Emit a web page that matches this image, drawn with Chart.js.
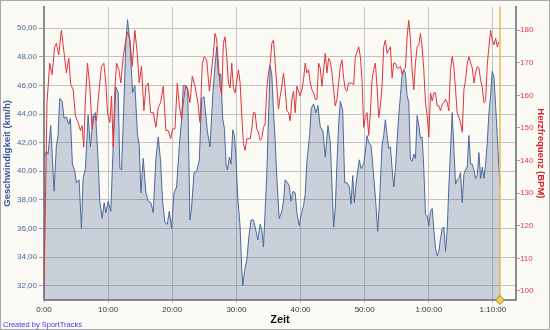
<!DOCTYPE html>
<html>
<head>
<meta charset="utf-8">
<script src="https://cdn.jsdelivr.net/npm/chart.js@4/dist/chart.umd.min.js"></script>
<style>
  html, body { margin: 0; padding: 0; background: #fbfaf5; }
  #wrap { width: 550px; height: 330px; position: relative; }
</style>
</head>
<body>
<div id="wrap"><canvas id="chartRun"></canvas></div>
<script>
// Geschwindigkeit (km/h), Zeit in Minuten
const speedMin = [0, 0.37, 0.63, 1.05, 1.57, 1.93, 2.19, 2.45, 2.82, 3.13, 3.49, 3.86, 4.12, 4.43, 4.8, 5.06, 5.47, 5.84, 6.1, 6.46,
  6.88, 7.24, 7.66, 8.03, 8.44, 8.7, 9.07, 9.38, 9.64, 10, 10.42, 10.79, 11.2, 11.57, 11.83, 12.09, 12.45, 12.76, 13.03, 13.39,
  13.81, 14.17, 14.59, 14.85, 15.11, 15.47, 15.89, 16.26, 16.67, 17.04, 17.45, 17.82, 18.18, 18.49, 18.86, 19.22, 19.54, 19.9, 20.27, 20.68,
  21.1, 21.46, 21.72, 22.09, 22.4, 22.76, 23.02, 23.39, 23.81, 24.22, 24.59, 24.95, 25.47, 25.89, 26.31, 26.67, 26.93, 27.19, 27.56, 27.87,
  28.13, 28.39, 28.6, 28.91, 29.17, 29.43, 29.69, 29.9, 30.21, 30.58, 30.84, 31, 31.26, 31.62, 31.99, 32.3, 32.66, 33.02, 33.34, 33.7,
  33.96, 34.22, 34.48, 34.74, 35, 35.27, 35.53, 35.79, 36.05, 36.31, 36.67, 37.09, 37.35, 37.61, 37.97, 38.23, 38.5, 38.81, 39.17, 39.43,
  39.8, 40.11, 40.47, 40.73, 41, 41.41, 41.67, 42.04, 42.4, 42.71, 43.08, 43.5, 43.86, 44.28, 44.65, 44.91, 45.17, 45.43, 45.68, 45.94,
  46.2, 46.57, 46.89, 47.25, 47.62, 47.88, 48.14, 48.39, 48.65, 48.91, 49.17, 49.43, 49.85, 50.21, 50.37, 50.63, 51, 51.31, 51.67, 52.04,
  52.35, 52.71, 52.97, 53.23, 53.5, 53.76, 54.02, 54.28, 54.54, 54.8, 55.06, 55.32, 55.58, 55.84, 56.1, 56.36, 56.62, 56.88, 57.14, 57.4,
  57.66, 57.92, 58.18, 58.44, 58.7, 58.96, 59.22, 59.49, 59.75, 60.01, 60.27, 60.53, 60.79, 61.05, 61.31, 61.57, 61.83, 62.09, 62.35, 62.61,
  62.87, 63.13, 63.39, 63.65, 63.91, 64.17, 64.43, 64.69, 64.95, 65.22, 65.48, 65.74, 66, 66.26, 66.52, 66.78, 67.04, 67.3, 67.56, 67.82,
  68.08, 68.34, 68.6, 68.86, 69.12, 69.38, 69.64, 69.9, 70.16, 70.42, 70.68, 70.94, 71.1];
const speed = [41.0, 41.4, 41.2, 43.2, 38.6, 41.8, 42.5, 45.1, 44.9, 43.7, 43.8, 43.3, 43.7, 40.5, 40.0, 39.2, 39.4, 36.0, 39.5, 40.2,
  43.9, 41.7, 43.9, 44.1, 40.7, 37.9, 36.7, 37.8, 37.1, 37.9, 37.2, 41.8, 45.9, 45.5, 40.2, 40.1, 44.6, 49.0, 50.6, 49.0,
  45.5, 46.0, 42.5, 41.8, 38.5, 40.9, 38.5, 37.9, 37.8, 37.1, 40.9, 42.4, 40.7, 37.9, 36.4, 36.3, 37.2, 36.0, 38.5, 38.9,
  41.8, 43.6, 46.0, 46.0, 45.8, 36.6, 37.5, 39.9, 40.0, 40.8, 45.1, 45.2, 42.8, 41.7, 45.3, 47.4, 48.7, 46.7, 46.8, 43.7,
  43.0, 40.5, 40.1, 41.0, 40.5, 42.9, 42.5, 41.2, 38.2, 36.1, 33.1, 32.0, 33.0, 33.8, 35.6, 36.6, 36.6, 35.9, 35.2, 36.3,
  35.9, 34.7, 37.2, 39.8, 43.7, 47.4, 46.7, 44.1, 42.1, 39.5, 36.7, 37.2, 37.9, 39.4, 39.2, 39.0, 37.9, 38.6, 38.5, 37.1,
  36.2, 37.0, 37.6, 38.4, 40.7, 42.5, 44.4, 44.7, 44.1, 44.6, 43.1, 42.8, 41.0, 43.2, 42.0, 38.9, 36.1, 37.5, 40.5, 43.2,
  44.9, 44.3, 39.2, 39.2, 38.9, 37.7, 39.7, 37.8, 39.1, 40.0, 40.8, 40.2, 40.5, 41.8, 42.5, 42.0, 41.8, 40.2, 38.2, 35.8,
  38.2, 41.8, 42.5, 43.6, 42.5, 41.6, 41.7, 40.2, 38.9, 40.2, 42.1, 43.9, 45.3, 46.7, 47.1, 46.8, 45.3, 44.8, 40.8, 40.7,
  41.2, 40.9, 43.9, 43.2, 42.3, 42.4, 40.2, 37.0, 36.9, 36.2, 37.2, 37.4, 35.9, 34.6, 34.1, 34.4, 35.3, 36.0, 36.1, 34.4,
  35.9, 38.9, 41.5, 44.1, 41.6, 39.1, 39.4, 39.5, 39.9, 37.8, 39.8, 40.1, 40.3, 42.5, 40.5, 40.5, 40.1, 39.5, 39.7, 41.3,
  39.5, 40.3, 39.5, 40.5, 42.0, 44.1, 45.3, 47.0, 46.6, 44.6, 42.5, 40.2, 39.0];

// Herzfrequenz (BPM), Zeit in Minuten
const hrMin = [0, 0.47, 0.89, 1.26, 1.67, 1.93, 2.3, 2.71, 3.08, 3.49, 3.86, 4.17, 4.54, 4.9, 5.32, 5.68, 5.94, 6.2, 6.46, 6.78,
  7.14, 7.5, 7.82, 8.18, 8.55, 8.96, 9.33, 9.64, 9.9, 10.27, 10.53, 10.79, 11.05, 11.31, 11.67, 11.98, 12.35, 12.76, 13.03, 13.39,
  13.76, 14.17, 14.54, 14.85, 15.21, 15.58, 15.89, 16.26, 16.62, 17.04, 17.45, 17.82, 18.18, 18.6, 19.01, 19.38, 19.74, 20.06, 20.42, 20.79,
  21.1, 21.46, 21.72, 22.09, 22.4, 22.76, 23.13, 23.55, 23.96, 24.33, 24.69, 25, 25.37, 25.79, 26.15, 26.41, 26.67, 26.93, 27.19, 27.45,
  27.71, 27.97, 28.23, 28.5, 28.76, 29.02, 29.28, 29.54, 29.8, 30.06, 30.32, 30.58, 30.84, 31.1, 31.36, 31.62, 32.14, 32.4, 32.66, 32.92,
  33.18, 33.44, 33.7, 33.96, 34.22, 34.48, 34.74, 35, 35.27, 35.53, 35.79, 36.05, 36.31, 36.57, 36.83, 37.09, 37.35, 37.61, 37.87, 38.13,
  38.39, 38.65, 38.91, 39.17, 39.43, 39.69, 39.95, 40.21, 40.47, 40.73, 41, 41.26, 41.52, 41.78, 42.04, 42.3, 42.56, 42.82, 43.08, 43.34,
  43.6, 43.86, 44.12, 44.38, 44.64, 44.9, 45.16, 45.42, 45.68, 45.94, 46.2, 46.46, 46.72, 46.98, 47.24, 47.5, 48.02, 48.29, 48.55, 48.81,
  49.07, 49.33, 49.59, 49.85, 50.11, 50.37, 50.63, 50.89, 51.15, 51.41, 51.67, 51.93, 52.19, 52.45, 52.71, 52.97, 53.23, 53.5, 53.76, 54.02,
  54.28, 54.54, 54.8, 55.06, 55.32, 55.58, 55.84, 56.1, 56.36, 56.62, 56.88, 57.14, 57.4, 57.66, 57.92, 58.18, 58.44, 58.7, 58.96, 59.22,
  59.49, 59.75, 60.01, 60.27, 60.53, 60.79, 61.05, 61.31, 61.57, 61.83, 62.09, 62.35, 62.61, 62.87, 63.13, 63.39, 63.65, 63.91, 64.17, 64.43,
  64.69, 64.95, 65.22, 65.48, 65.74, 66, 66.26, 66.52, 66.78, 67.04, 67.3, 67.56, 67.82, 68.08, 68.34, 68.6, 68.86, 69.12, 69.38, 69.64,
  69.9, 70.16, 70.42, 70.68, 70.94];
const heartRate = [100, 157.8, 169.9, 166.4, 174.9, 176.0, 172.4, 180.0, 173.9, 166.9, 171.4, 163.3, 161.8, 153.7, 151.7, 149.2, 150.7, 144.1, 158.8, 169.9,
  162.8, 149.7, 153.7, 152.2, 160.8, 168.9, 169.9, 163.8, 154.7, 151.7, 159.8, 144.1, 161.8, 169.9, 167.9, 163.8, 171.9, 177.0, 179.5, 177.0,
  168.9, 180.0, 172.9, 163.8, 168.9, 155.3, 162.8, 163.8, 154.7, 154.7, 150.2, 156.3, 157.8, 162.8, 149.2, 149.2, 146.7, 149.7, 149.7, 163.8,
  156.8, 152.7, 157.8, 162.8, 161.8, 157.8, 165.9, 162.8, 158.3, 151.7, 169.9, 171.9, 170.9, 161.3, 167.9, 172.9, 179.0, 177.0, 169.9, 162.8,
  160.3, 176.0, 178.0, 171.9, 163.8, 162.3, 169.9, 162.3, 160.8, 164.3, 167.9, 163.8, 153.7, 145.2, 143.1, 146.7, 146.7, 149.7, 154.7, 154.7,
  149.7, 148.7, 146.2, 146.7, 150.2, 151.2, 161.8, 166.9, 169.9, 176.0, 177.0, 169.9, 162.8, 155.8, 159.8, 162.8, 166.9, 161.8, 155.3, 154.7,
  152.2, 158.8, 161.3, 154.7, 162.8, 161.3, 159.8, 161.8, 164.8, 169.9, 166.9, 167.9, 163.8, 161.8, 160.8, 158.8, 158.8, 169.9, 168.4, 162.8,
  167.9, 172.9, 166.9, 171.4, 170.4, 166.9, 161.8, 156.8, 158.8, 163.8, 168.9, 170.9, 165.4, 161.8, 161.3, 163.8, 163.8, 163.3, 171.9, 173.4,
  174.9, 171.9, 164.8, 150.2, 153.2, 154.7, 147.7, 154.7, 164.8, 167.9, 169.9, 162.8, 153.2, 156.8, 162.8, 174.9, 177.0, 172.9, 173.9, 174.9,
  165.4, 169.9, 169.9, 168.4, 168.4, 168.9, 166.4, 167.9, 168.4, 178.0, 183.0, 177.0, 167.9, 161.8, 169.9, 174.9, 175.5, 179.0, 174.9, 167.9,
  157.8, 153.7, 147.2, 160.8, 158.3, 160.8, 160.8, 156.8, 156.8, 155.3, 157.3, 157.8, 158.8, 157.8, 155.3, 167.9, 171.9, 168.9, 161.8, 154.7,
  153.2, 151.7, 148.7, 161.8, 164.8, 169.9, 171.9, 169.9, 168.4, 163.8, 166.9, 168.9, 168.4, 164.8, 162.3, 157.8, 158.3, 169.4, 174.9, 180.0,
  177.0, 175.5, 177.5, 174.9, 176.5];

const timeTicks = [0, 10, 20, 30, 40, 50, 60, 70];
const speedTicks = [32, 34, 36, 38, 40, 42, 44, 46, 48, 50];
const hrTicks = [100, 110, 120, 130, 140, 150, 160, 170, 180];
const endMinute = speedMin[speedMin.length - 1];

function fmtTime(v) {
  const h = Math.floor(v / 60);
  const m = v % 60;
  if (h > 0) return h + ':' + String(m).padStart(2, '0') + ':00';
  return m + ':00';
}

const decor = {
  id: 'decor',
  beforeDraw(chart) {
    const ctx = chart.ctx;
    ctx.save();
    ctx.fillStyle = '#fbfaf5';
    ctx.fillRect(0, 0, chart.width, chart.height);
    ctx.restore();
  },
  afterDatasetsDraw(chart) {
    const { ctx, chartArea, scales } = chart;
    const xe = scales.x.getPixelForValue(endMinute);
    ctx.save();
    ctx.strokeStyle = '#e6b94e';
    ctx.lineWidth = 1.5;
    ctx.beginPath();
    ctx.moveTo(xe, chartArea.top);
    ctx.lineTo(xe, chartArea.bottom);
    ctx.stroke();
    ctx.restore();
  },
  afterDraw(chart) {
    const { ctx, chartArea, scales } = chart;
    const xe = scales.x.getPixelForValue(endMinute);
    const yb = chartArea.bottom;
    ctx.save();
    // Rundenmarker
    ctx.fillStyle = '#f2d24a';
    ctx.strokeStyle = '#9a7d22';
    ctx.lineWidth = 1;
    ctx.beginPath();
    ctx.moveTo(xe, yb - 4.5);
    ctx.lineTo(xe + 4.5, yb);
    ctx.lineTo(xe, yb + 4.5);
    ctx.lineTo(xe - 4.5, yb);
    ctx.closePath();
    ctx.fill();
    ctx.stroke();
    // Credit
    ctx.fillStyle = '#3c3cf0';
    ctx.font = '7.5px "Liberation Sans", Arial, sans-serif';
    ctx.textBaseline = 'alphabetic';
    ctx.fillText('Created by SportTracks', 3, 327);
    // Rahmen
    ctx.strokeStyle = '#a8a8a8';
    ctx.strokeRect(0.5, 0.5, chart.width - 1, chart.height - 1);
    ctx.restore();
  }
};

const font = '"Liberation Sans", Arial, sans-serif';

new Chart(document.getElementById('chartRun'), {
  type: 'line',
  data: {
    datasets: [
      {
        label: 'Herzfrequenz',
        data: hrMin.map((t, i) => ({ x: t, y: heartRate[i] })),
        yAxisID: 'y1',
        borderColor: '#e0343c',
        borderWidth: 1,
        pointRadius: 0,
        fill: false,
        order: 0
      },
      {
        label: 'Geschwindigkeit',
        data: speedMin.map((t, i) => ({ x: t, y: speed[i] })),
        yAxisID: 'y',
        borderColor: '#4a6a9e',
        borderWidth: 1,
        backgroundColor: 'rgba(70, 95, 145, 0.27)',
        pointRadius: 0,
        fill: 'start',
        order: 1
      }
    ]
  },
  options: {
    responsive: true,
    maintainAspectRatio: false,
    animation: false,
    layout: { padding: { top: 3, left: 0, right: 0, bottom: 0 } },
    plugins: { legend: { display: false }, tooltip: { enabled: false } },
    scales: {
      x: {
        type: 'linear',
        min: 0,
        max: 73.6,
        afterFit: s => { s.height = 30; },
        afterBuildTicks: s => { s.ticks = timeTicks.map(v => ({ value: v })); },
        ticks: { color: '#333', font: { family: font, size: 8 }, padding: 2, maxRotation: 0, callback: v => fmtTime(v) },
        grid: { color: '#c4c4c4', tickLength: 3, tickColor: '#c4c4c4' },
        border: { color: '#8a8a8a', width: 2 },
        title: { display: true, text: 'Zeit', color: '#111', font: { family: font, size: 11, weight: 'bold' }, padding: { top: 0, bottom: 3 } }
      },
      y: {
        position: 'left',
        min: 31,
        max: 51.5,
        afterFit: s => { s.width = 44; },
        afterBuildTicks: s => { s.ticks = speedTicks.map(v => ({ value: v })); },
        ticks: { color: '#4a64a0', font: { family: font, size: 8 }, padding: 2,
          callback: v => v.toFixed(2).replace('.', ',') },
        grid: { color: '#c2c2c2', tickLength: 5, tickColor: '#a0a0a0' },
        border: { color: '#8a8a8a', width: 2 },
        title: { display: true, text: 'Geschwindigkeit (km/h)', color: '#3a5a9c', font: { family: font, size: 9.5, weight: 'bold' }, padding: { top: 2, bottom: 0 } }
      },
      y1: {
        position: 'right',
        min: 97.2,
        max: 187.2,
        afterFit: s => { s.width = 34; },
        afterBuildTicks: s => { s.ticks = hrTicks.map(v => ({ value: v })); },
        ticks: { color: '#e0404a', font: { family: font, size: 8 }, padding: 0 },
        grid: { drawOnChartArea: false, tickLength: 4, tickColor: '#a0a0a0' },
        border: { color: '#8a8a8a', width: 2 },
        title: { display: true, text: 'Herzfrequenz (BPM)', color: '#d8202c', font: { family: font, size: 9.5, weight: 'bold' }, padding: { top: 4, bottom: 0 } }
      }
    }
  },
  plugins: [decor]
});
</script>
</body>
</html>
